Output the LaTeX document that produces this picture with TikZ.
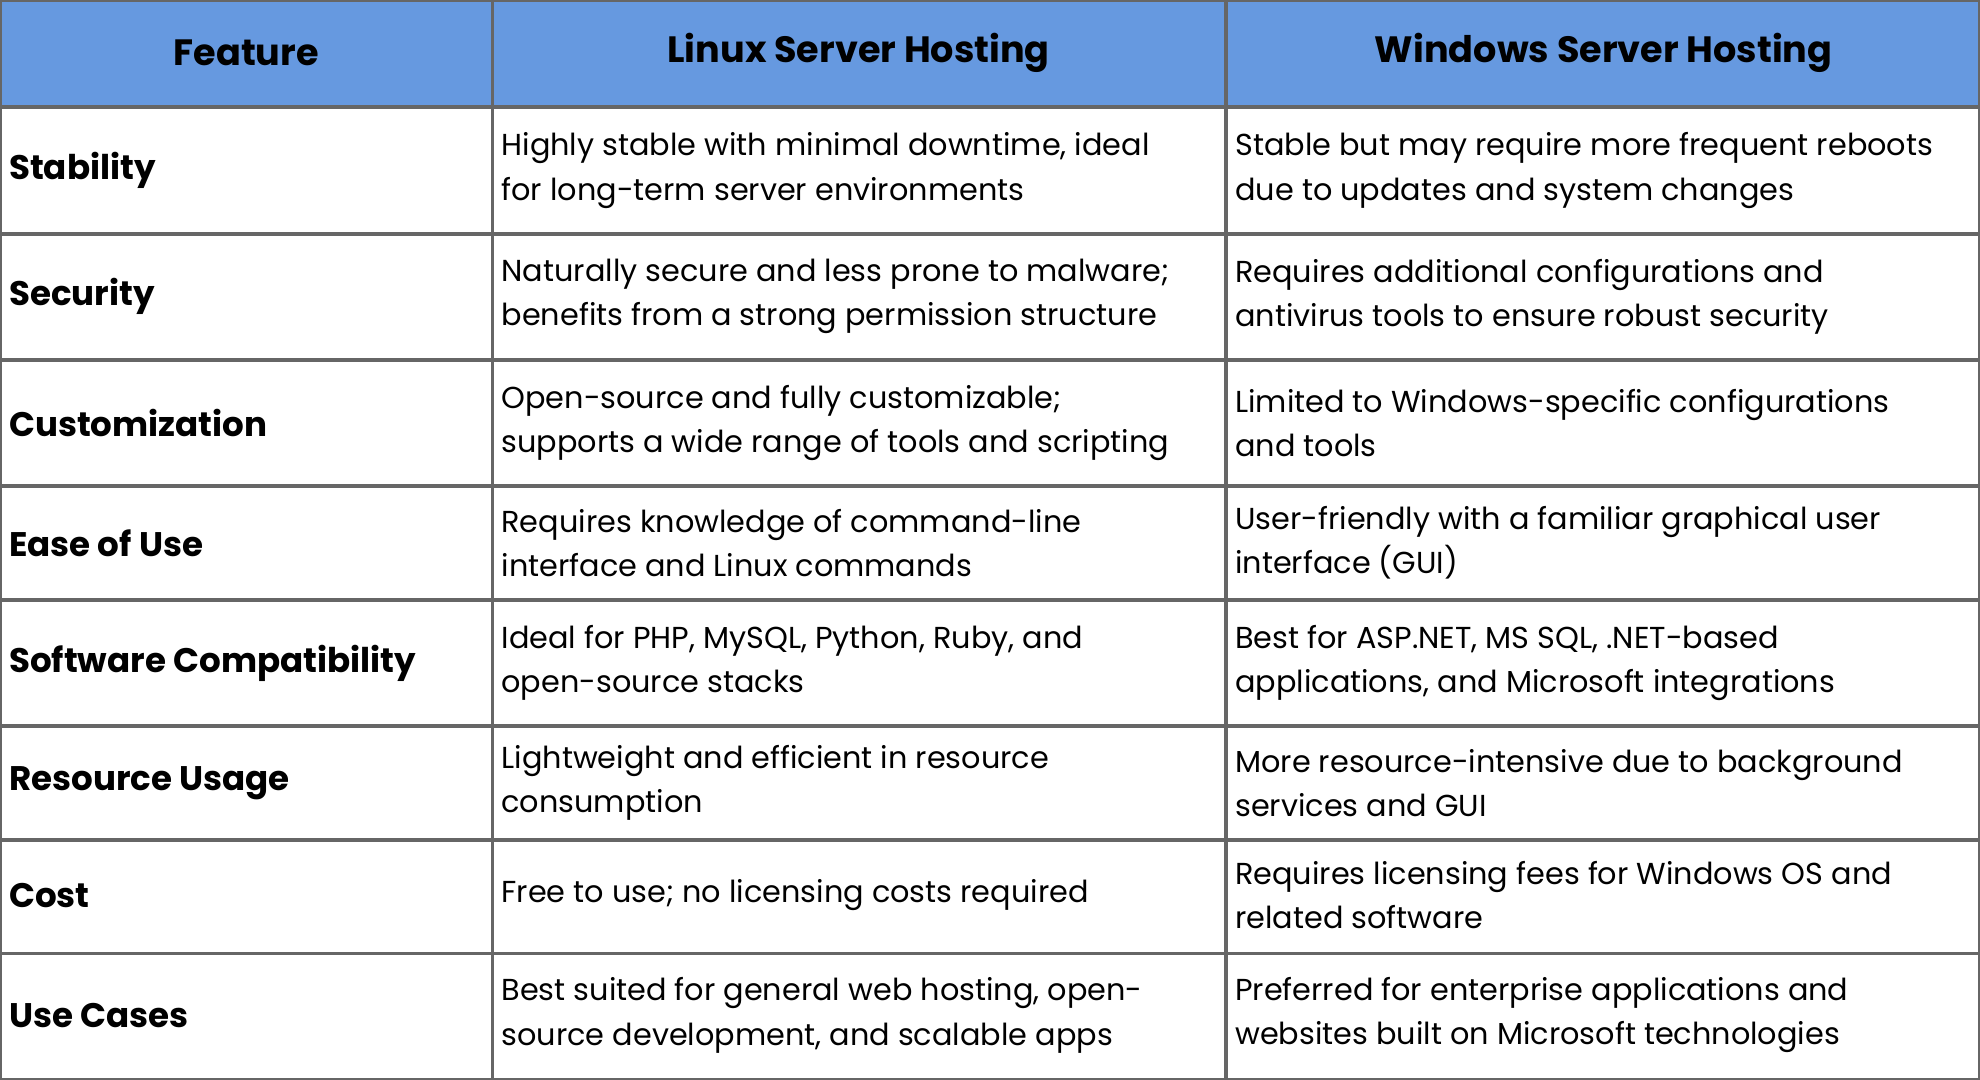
\documentclass[tikz,border=0pt]{standalone}
\usepackage{fontspec}
\setmainfont{Poppins}
\begin{document}
\begin{tikzpicture}[x=1pt,y=-1pt,
  bodytxt/.style={anchor=west,align=left,inner sep=0pt,font=\fontsize{24}{35}\selectfont},
  feat/.style={anchor=west,align=left,inner sep=0pt,font=\fontsize{27}{35}\selectfont\bfseries},
  head/.style={anchor=center,inner sep=0pt,font=\fontsize{29}{35}\selectfont\bfseries}]
\definecolor{hdr}{HTML}{6699E0}
\definecolor{grid}{HTML}{666666}
\useasboundingbox (0,0) rectangle (1568,855);
\fill[white] (0,0) rectangle (1568,855);
\fill[hdr] (0,0) rectangle (1568,85);
\node[head] (h1) at (195,42) {Feature};
\node[head] (h2) at (680,42) {Linux Server Hosting};
\node[head] (h3) at (1270,42) {Windows Server Hosting};
\def\rows{135/Stability/{Highly stable with minimal downtime, ideal\\for long-term server environments}/{Stable but may require more frequent reboots\\due to updates and system changes},
235/Security/{Naturally secure and less prone to malware;\\benefits from a strong permission structure}/{Requires additional configurations and\\antivirus tools to ensure robust security},
335/Customization/{Open-source and fully customizable;\\supports a wide range of tools and scripting}/{Limited to Windows-specific configurations\\and tools},
430/Ease of Use/{Requires knowledge of command-line\\interface and Linux commands}/{User-friendly with a familiar graphical user\\interface (GUI)},
525/Software Compatibility/{Ideal for PHP, MySQL, Python, Ruby, and\\open-source stacks}/{Best for ASP.NET, MS SQL, .NET-based\\applications, and Microsoft integrations},
620/Resource Usage/{Lightweight and efficient in resource\\consumption}/{More resource-intensive due to background\\services and GUI},
709/Cost/{Free to use; no licensing costs required}/{Requires licensing fees for Windows OS and\\related software},
804/Use Cases/{Best suited for general web hosting, open-\\source development, and scalable apps}/{Preferred for enterprise applications and\\websites built on Microsoft technologies}}
\foreach \y/\f/\a/\b [count=\i] in \rows {
  \node[feat] (f\i) at (7,\y) {\f};
  \node[bodytxt] (a\i) at (397,\y) {\a};
  \node[bodytxt] (b\i) at (978,\y) {\b};
}
\draw[grid,line width=3pt] (0,0) rectangle (1568,855);
\foreach \x in {390,971} \draw[grid,line width=3pt] (\x,0) -- (\x,855);
\foreach \y in {85,185,285,385,475,575,665,755} \draw[grid,line width=3pt] (0,\y) -- (1568,\y);
\end{tikzpicture}
\end{document}
